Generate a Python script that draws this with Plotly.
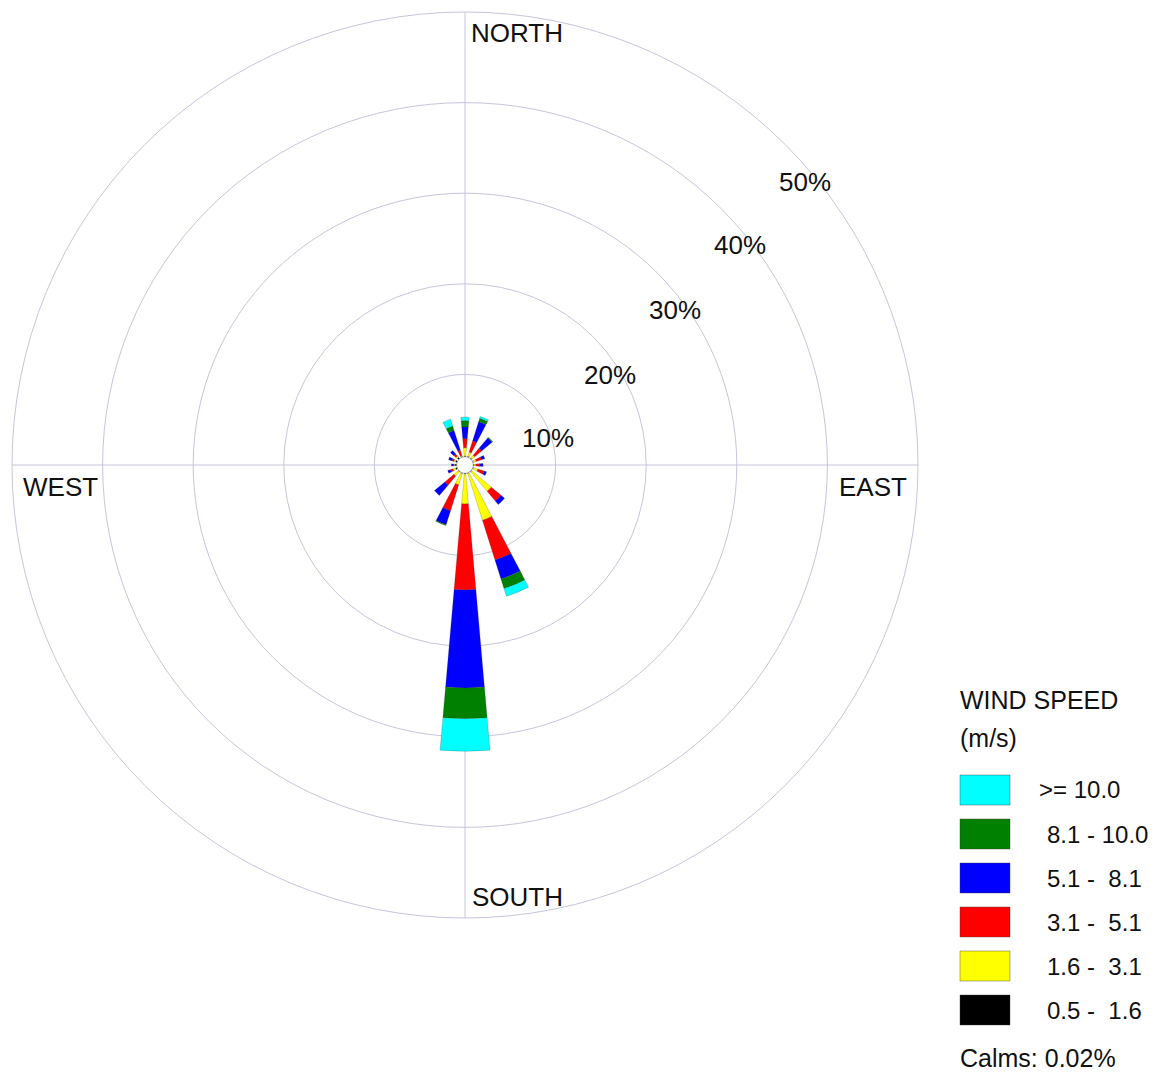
import plotly.graph_objects as go

# ---------------- data ----------------
directions = ["N", "NNE", "NE", "ENE", "E", "ESE", "SE", "SSE",
              "S", "SSW", "SW", "WSW", "W", "WNW", "NW", "NNW"]

# frequency (%) of each speed class per direction
spd_0p5_1p6 = [0.1, 0.1, 0.1, 0.1, 0.1, 0.1, 0.1, 0.1, 0.1, 0.1, 0.1, 0.2, 0.2, 0.2, 0.2, 0.1]
spd_1p6_3p1 = [0.9, 0.5, 0.4, 0.3, 0.2, 0.5, 2.8, 5.4, 3.3, 1.3, 0.6, 0.3, 0.1, 0.2, 0.2, 0.1]
spd_3p1_5p1 = [1.0, 1.3, 1.0, 0.6, 0.4, 0.7, 1.4, 4.6, 9.5, 3.0, 1.3, 0.3, 0.1, 0.2, 0.3, 0.6]
spd_5p1_8p1 = [1.3, 2.2, 1.5, 0.4, 0.4, 0.3, 0.5, 2.2, 10.8, 1.6, 1.5, 0.3, 0.2, 0.4, 0.5, 2.3]
spd_8p1_10 = [0.7, 0.4, 0.1, 0.0, 0.0, 0.0, 0.0, 1.1, 3.4, 0.1, 0.0, 0.0, 0.0, 0.0, 0.0, 0.5]
spd_ge_10 = [0.4, 0.2, 0.0, 0.0, 0.0, 0.0, 0.0, 0.9, 3.6, 0.0, 0.0, 0.0, 0.0, 0.0, 0.0, 0.8]

speed_labels = [">= 10.0", "8.1 - 10.0", "5.1 -\u00a0 8.1", "3.1 -\u00a0 5.1",
                "1.6 -\u00a0 3.1", "0.5 -\u00a0 1.6"]
ring_ticks = [10, 20, 30, 40, 50]
ring_labels = ["10%", "20%", "30%", "40%", "50%"]
compass_labels = ["NORTH", "EAST", "SOUTH", "WEST"]
calms_text = "Calms: 0.02%"
CALM_R = 0.9  # visual radius of the calm circle (% units)

# ---------------- styling ----------------
W, H = 1157, 1074
CX, CY, R = 465, 465, 453  # polar centre & radius in pixels
colors = ["#000000", "#FFFF00", "#FF0000", "#0000FF", "#008000", "#00FFFF"]
series = [spd_0p5_1p6, spd_1p6_3p1, spd_3p1_5p1, spd_5p1_8p1, spd_8p1_10, spd_ge_10]
FONT = "Liberation Sans, Arial, sans-serif"
GRID = "#c6c6dc"

theta = [i * 360 / len(directions) for i in range(len(directions))]

fig = go.Figure()
cum = [CALM_R] * len(directions)
for vals, col in zip(series, colors):
    fig.add_trace(go.Barpolar(
        r=vals, theta=theta, base=list(cum), width=10,
        marker=dict(color=col, line=dict(color="rgba(40,40,40,0.4)", width=0.5)),
        showlegend=False, hoverinfo="skip"))
    cum = [c + v for c, v in zip(cum, vals)]

# calm circle
circ_t = list(range(0, 361, 5))
fig.add_trace(go.Scatterpolar(r=[CALM_R] * len(circ_t), theta=circ_t, mode="lines",
                              fill="toself", fillcolor="white",
                              line=dict(color="#a0a0a0", width=0.8),
                              showlegend=False, hoverinfo="skip"))

def px(x):
    return x / W

def py(y):
    return 1 - y / H

fig.update_layout(
    width=W, height=H, autosize=False,
    margin=dict(l=0, r=0, t=0, b=0),
    paper_bgcolor="white", plot_bgcolor="white",
    font=dict(family=FONT, color="#111111"),
    polar=dict(
        domain=dict(x=[px(CX - R), px(CX + R)], y=[py(CY + R), py(CY - R)]),
        bgcolor="white",
        barmode="overlay",
        radialaxis=dict(range=[0, 50], tickvals=ring_ticks, showticklabels=False,
                        ticks="", showline=False, gridcolor=GRID, gridwidth=1),
        angularaxis=dict(direction="clockwise", rotation=90, tickvals=[0, 90, 180, 270],
                         showticklabels=False, ticks="", showline=True,
                         linecolor=GRID, linewidth=1, gridcolor=GRID, gridwidth=1),
    ),
)


def label(text, x, y, size, xanchor="center"):
    return dict(text=text, x=px(x), y=py(y), xref="paper", yref="paper",
                xanchor=xanchor, yanchor="middle", showarrow=False,
                font=dict(size=size, family=FONT))


ann = []
compass_pos = [(517, 33), (873, 487), (517, 897), (60, 487)]
for t, (x, y) in zip(compass_labels, compass_pos):
    ann.append(label(t, x, y, 26))
ring_pos = [(548, 438), (610, 375), (675, 310), (740, 245), (805, 182)]
for t, (x, y) in zip(ring_labels, ring_pos):
    ann.append(label(t, x, y, 26))

# legend
LX = 958
ann.append(label("WIND SPEED", LX, 700, 25, "left"))
ann.append(label("(m/s)", LX, 738, 25, "left"))
shapes = []
legend_colors = colors[::-1]
for i, (lab, col) in enumerate(zip(speed_labels, legend_colors)):
    yc = 790 + i * 44
    shapes.append(dict(type="rect", xref="paper", yref="paper",
                       x0=px(960), x1=px(1010), y0=py(yc + 15), y1=py(yc - 15),
                       fillcolor=col, line=dict(color="rgba(60,60,60,0.5)", width=0.8)))
    lx = 1037 if i == 0 else 1045
    ann.append(label(lab, lx, yc, 24, "left"))
ann.append(label(calms_text, LX, 1058, 25, "left"))

fig.update_layout(annotations=ann, shapes=shapes)
fig.write_html("out.html", config={"displayModeBar": False},
               post_script="document.body.style.margin='0';")
